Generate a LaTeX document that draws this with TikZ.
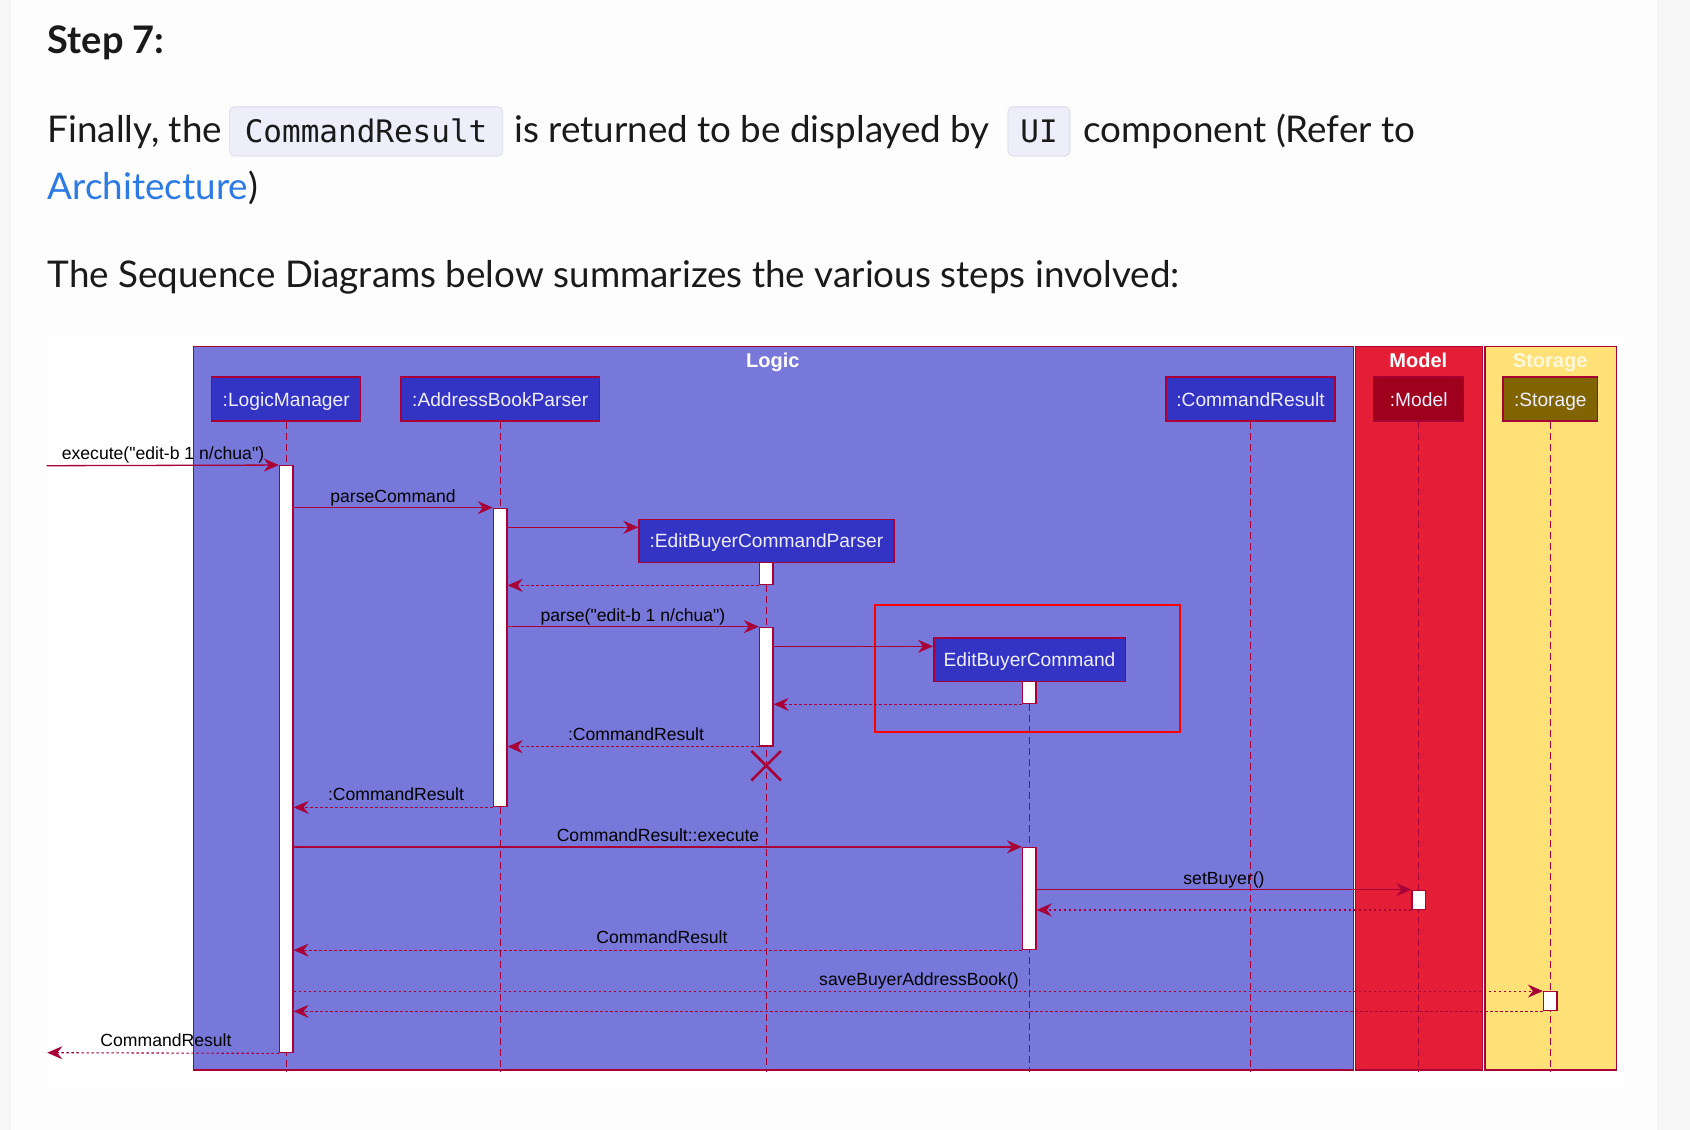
\documentclass[tikz,border=0pt]{standalone}
\usepackage{fontspec}
\setmainfont{Lato}
\newfontfamily\diafont{Liberation Sans}
\newfontfamily\codefont{DejaVu Sans Mono}
\usetikzlibrary{arrows.meta,calc,shapes.misc}
\definecolor{crim}{HTML}{A80036}
\definecolor{logicfill}{HTML}{7878DB}
\definecolor{boxfill}{HTML}{3333C4}
\definecolor{parttext}{HTML}{EEEEFF}
\definecolor{modelfill}{HTML}{E41E37}
\definecolor{modelbox}{HTML}{9F001C}
\definecolor{storagefill}{HTML}{FFE178}
\definecolor{storagebox}{HTML}{7F6400}
\definecolor{storagetitle}{HTML}{FFF8DC}
\definecolor{pagebg}{HTML}{F6F6F7}
\definecolor{contentbg}{HTML}{FDFDFD}
\definecolor{bodytext}{HTML}{1A1A1A}
\definecolor{linkblue}{HTML}{2C7BE5}
\definecolor{codebg}{HTML}{EEEEFB}
\definecolor{codeborder}{HTML}{E3E3EE}
\begin{document}
\begin{tikzpicture}[x=1pt,y=-1pt,
  body/.style={anchor=base west,inner sep=0pt,text=bodytext,font=\fontsize{36.8}{42}\selectfont},
  codebox/.style={draw=codeborder,fill=codebg,line width=1.2pt,rounded corners=5pt,inner sep=0pt,minimum height=49.3pt},
  code/.style={anchor=base,inner sep=0pt,text=bodytext,font=\codefont\fontsize{31}{36}\selectfont},
  frame/.style={draw=crim,line width=1.3pt,anchor=north west,inner sep=0pt,minimum height=723.3pt},
  ftitle/.style={anchor=base,inner sep=0pt,font=\diafont\bfseries\fontsize{20}{24}\selectfont},
  part/.style={draw=crim,line width=1.5pt,fill=boxfill,text=parttext,inner sep=0pt,
     font=\diafont\fontsize{19.2}{23}\selectfont,text height=14pt,text depth=0pt,minimum height=44pt},
  act/.style={draw=crim,fill=white,line width=1.3pt,inner sep=0pt,minimum width=13.5pt},
  life/.style={draw=crim,line width=1.3pt,dash pattern=on 7pt off 4pt},
  msg/.style={draw=crim,line width=1.3pt,-{Stealth[length=15pt,width=13pt,inset=5pt]}},
  ret/.style={msg,line width=1.1pt,dash pattern=on 2.5pt off 2.5pt},
  lbl/.style={anchor=base,inner sep=0pt,text=black,font=\diafont\fontsize{17.6}{21}\selectfont}
]
\useasboundingbox (0,0) rectangle (1690,1130);
\fill[pagebg] (0,0) rectangle (1690,1130);
\fill[contentbg] (11,0) rectangle (1657,1130);
\fill[white] (46.7,336.5) rectangle (1622.5,1086.5);

% ---------- page text ----------
\node[body,font=\bfseries\fontsize{38}{44}\selectfont] (t1) at (47.5,53.3) {Step 7:};
\node[body] (t2a) at (47.5,142.7) {Finally, the};
\node[codebox,minimum width=273pt] (cb1) at (366.1,131.35) {};
\node[code] (ct1) at (366.1,142.7) {CommandResult};
\node[body] (t2b) at (514,142.7) {is returned to be displayed by};
\node[codebox,minimum width=62pt] (cb2) at (1039,131.35) {};
\node[code] (ct2) at (1039,142.7) {UI};
\node[body] (t2c) at (1083,142.7) {component (Refer to};
\node[body] (t3) at (47.5,199.3) {\textcolor{linkblue}{Architecture})};
\node[body] (t4) at (47.5,287.3) {The Sequence Diagrams below summarizes the various steps involved:};

% ---------- frames ----------
\node[frame,fill=logicfill,minimum width=1159.7pt] (logicF) at (193,346) {};
\node[frame,fill=modelfill,minimum width=126.7pt] (modelF) at (1355,346) {};
\node[frame,fill=storagefill,minimum width=131.7pt] (storageF) at (1484.3,346) {};
\node[ftitle,text=white] (logicT) at (772.9,367) {Logic};
\node[ftitle,text=white] (modelT) at (1418.3,367) {Model};
\node[ftitle,text=storagetitle] (storageT) at (1550.2,367) {Storage};

% ---------- participants ----------
\node[part,minimum width=149pt] (lmB) at (286.2,399) {:LogicManager};
\node[part,minimum width=198.3pt] (abB) at (500.2,399) {:AddressBookParser};
\node[part,minimum width=169pt] (crB) at (1250.5,399) {:CommandResult};
\node[part,fill=modelbox,minimum width=90pt] (moB) at (1418.7,399) {:Model};
\node[part,fill=storagebox,minimum width=94.6pt] (stB) at (1550.3,399) {:Storage};
\node[part,minimum width=254.7pt,minimum height=43pt] (ebcpB) at (766.4,540.8) {:EditBuyerCommandParser};
\node[draw=red,line width=2.2pt,anchor=north west,inner sep=0pt,minimum width=305.3pt,minimum height=127pt] (refF) at (873.7,604) {};
\node[part,minimum width=191.5pt,minimum height=43.3pt] (ebcB) at (1029.5,659.7) {EditBuyerCommand};

% ---------- lifelines ----------
\draw[life] (lmB.south) -- (lmB.south |- 0,1072);
\draw[life] (abB.south) -- (abB.south |- 0,1072);
\draw[life] (ebcpB.south) -- (ebcpB.south |- 0,1072);
\draw[life] (ebcB.south) -- (ebcB.south |- 0,1072);
\draw[life] (crB.south) -- (crB.south |- 0,1072);
\draw[life] (moB.south) -- (moB.south |- 0,1072);
\draw[life] (stB.south) -- (stB.south |- 0,1072);

% ---------- activations ----------
\node[act,minimum height=587pt] (lmA) at (286.2,759.2) {};
\node[act,minimum height=298.4pt] (abA) at (500.2,657.5) {};
\node[act,minimum height=22.4pt] (ebcpA) at (766.2,573.5) {};
\node[act,minimum height=118.7pt] (ebcpA2) at (766.2,686.65) {};
\node[act,minimum height=22.4pt] (ebcA) at (1029.3,692.5) {};
\node[act,minimum height=102pt] (ebcA2) at (1029.3,898.5) {};
\node[act,minimum height=19pt] (moA) at (1418.7,899.8) {};
\node[act,minimum height=19pt] (stA) at (1550.3,1001.2) {};

% ---------- destroy ----------
\node[cross out,draw=crim,line width=2.5pt,minimum size=27pt,inner sep=0pt] (ebcpX) at (766.2,765.7) {};

% ---------- messages ----------
\coordinate (extIn) at (46.7,465.7);
\coordinate (extOut) at (47.3,1052.7);
\draw[msg] (extIn) -- (lmA.north west);
\node[lbl] (m1) at (163,459.7) {execute("edit-b 1 n/chua")};
\draw[msg] (abA.north west -| lmA.east) -- (abA.north west);
\node[lbl] (m2) at (393,502.3) {parseCommand};
\draw[msg] (abA.east |- 0,527.3) -- (ebcpB.west |- 0,527.3);
\draw[ret] (ebcpA.south west) -- (ebcpA.south west -| abA.east);
\draw[msg] (ebcpA2.north west -| abA.east) -- (ebcpA2.north west);
\node[lbl] (m3) at (633,621.3) {parse("edit-b 1 n/chua")};
\draw[msg] (ebcpA2.east |- 0,646.3) -- (ebcB.west |- 0,646.3);
\draw[ret] (ebcA.south west) -- (ebcA.south west -| ebcpA2.east);
\draw[ret] (ebcpA2.south west) -- (ebcpA2.south west -| abA.east);
\node[lbl] (m4) at (636,740) {:CommandResult};
\draw[ret] (abA.south west) -- (abA.south west -| lmA.east);
\node[lbl] (m5) at (396,800.7) {:CommandResult};
\draw[msg] (ebcA2.north west -| lmA.east) -- (ebcA2.north west);
\node[lbl] (m6) at (658,841.7) {CommandResult::execute};
\draw[msg] (moA.north west -| ebcA2.east) -- (moA.north west);
\node[lbl] (m7) at (1224,884) {setBuyer()};
\draw[ret] (moA.south west) -- (moA.south west -| ebcA2.east);
\draw[ret] (ebcA2.south west) -- (ebcA2.south west -| lmA.east);
\node[lbl] (m8) at (662,943.5) {CommandResult};
\draw[ret] (stA.north west -| lmA.east) -- (stA.north west);
\node[lbl] (m9) at (919,985.7) {saveBuyerAddressBook()};
\draw[ret] (stA.south west) -- (stA.south west -| lmA.east);
\draw[ret] (lmA.south west) -- (extOut);
\node[lbl] (m10) at (166,1046) {CommandResult};
\end{tikzpicture}
\end{document}
